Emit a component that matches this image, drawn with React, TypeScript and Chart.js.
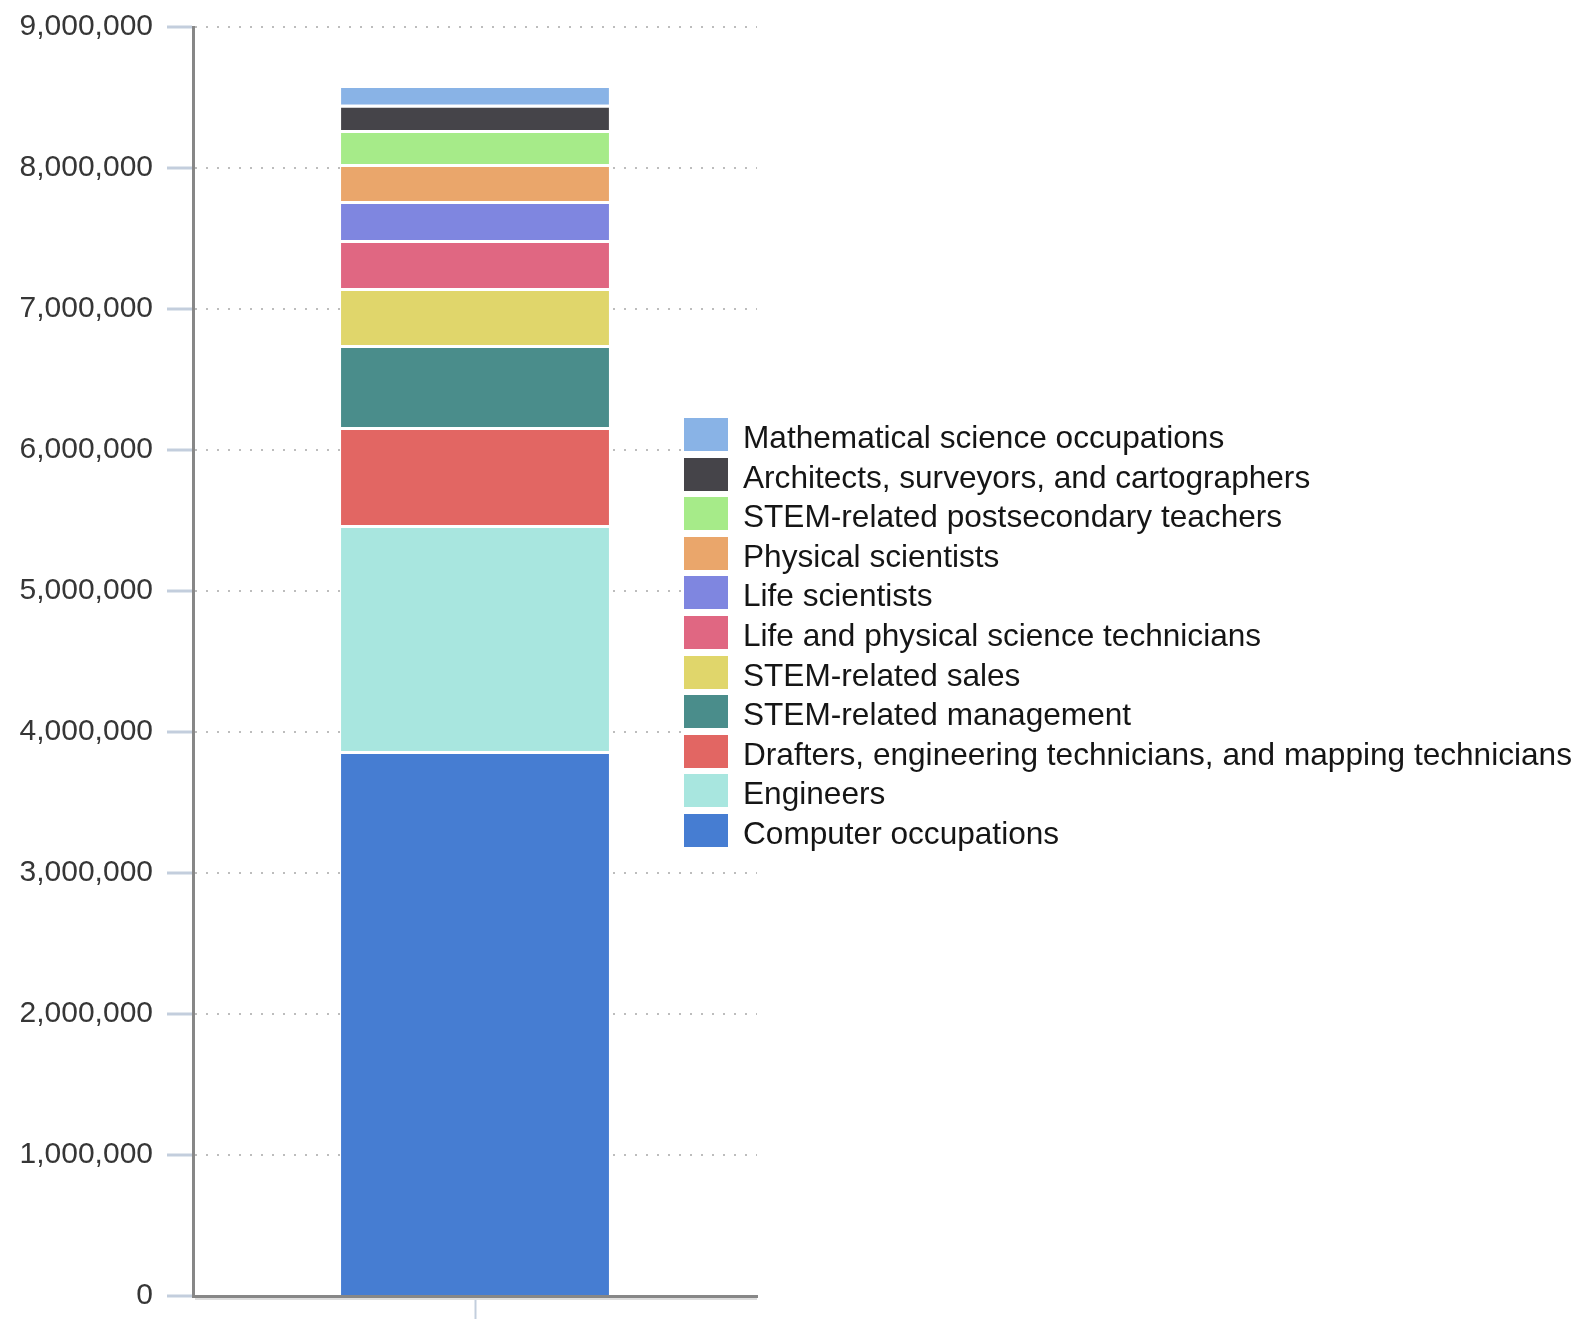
import React, { useEffect, useRef } from 'react';
import { Chart, registerables } from 'chart.js';

Chart.register(...registerables);

const categories = [''];
const seriesNames = [
  'Computer occupations',
  'Engineers',
  'Drafters, engineering technicians, and mapping technicians',
  'STEM-related management',
  'STEM-related sales',
  'Life and physical science technicians',
  'Life scientists',
  'Physical scientists',
  'STEM-related postsecondary teachers',
  'Architects, surveyors, and cartographers',
  'Mathematical science occupations',
];
const seriesValues = [3865000, 1603000, 695000, 582000, 404000, 340000, 277000, 262000, 242000, 179000, 140000];
const seriesColors = [
  '#467dd2', '#a8e6df', '#e26663', '#4a8d8b', '#e0d66b', '#e06782',
  '#7f86e0', '#eaa66b', '#a6eb89', '#454449', '#89b3e6',
];
const yMin = 0;
const yMax = 9000000;
const yStep = 1000000;

const sideLegend = {
  id: 'sideLegend',
  afterDraw(chart: any) {
    const ctx = chart.ctx;
    const ds = chart.data.datasets;
    const n = ds.length;
    ctx.save();
    ctx.fillStyle = '#ffffff';
    ctx.fillRect(681, 412, 898, 442);
    ctx.font = '31.6px "Liberation Sans"';
    ctx.textBaseline = 'middle';
    ctx.textAlign = 'left';
    for (let i = 0; i < n; i++) {
      const d = ds[n - 1 - i];
      const y = Math.round(418 + i * 39.6);
      ctx.fillStyle = d.backgroundColor;
      ctx.fillRect(684, y, 44, 33);
      ctx.fillStyle = '#151515';
      ctx.fillText(d.label, 743, y + 21);
    }
    ctx.restore();
  },
};

const underAxis = {
  id: 'underAxis',
  afterDraw(chart: any) {
    const ctx = chart.ctx;
    const a = chart.chartArea;
    ctx.save();
    ctx.strokeStyle = '#dedede';
    ctx.lineWidth = 2;
    ctx.beginPath();
    ctx.moveTo(a.left + 2, a.bottom + 3);
    ctx.lineTo(a.right, a.bottom + 3);
    ctx.stroke();
    ctx.restore();
  },
};

export default function App() {
  const ref = useRef<HTMLCanvasElement | null>(null);
  useEffect(() => {
    if (!ref.current) return;
    const chart = new Chart(ref.current, {
      type: 'bar',
      data: {
        labels: categories,
        datasets: seriesNames.map((name, i) => ({
          label: name,
          data: [seriesValues[i]],
          backgroundColor: seriesColors[i],
          borderColor: '#ffffff',
          borderWidth: { top: 3, right: 0, bottom: 0, left: 0 },
          borderSkipped: false,
          barPercentage: 0.475,
          categoryPercentage: 1,
        })),
      },
      options: {
        animation: false,
        responsive: true,
        maintainAspectRatio: false,
        layout: { padding: { left: 0, top: 27, right: 822, bottom: 0 } },
        plugins: {
          legend: { display: false },
          tooltip: { enabled: false },
        },
        scales: {
          x: {
            stacked: true,
            afterFit: (s: any) => { s.height = 23; s.paddingLeft = 0; s.paddingRight = 0; },
            grid: {
              drawOnChartArea: false,
              drawTicks: true,
              offset: false,
              tickLength: 23,
              tickColor: '#c3cedd',
              tickWidth: 2,
            },
            border: { display: true, color: '#878787', width: 3 },
            ticks: { display: false },
          },
          y: {
            stacked: true,
            min: yMin,
            max: yMax,
            afterFit: (s: any) => { s.width = 193; s.paddingTop = 0; s.paddingBottom = 0; },
            ticks: {
              stepSize: yStep,
              padding: 14,
              color: '#363636',
              font: { family: '"Liberation Sans"', size: 30 },
              callback: (v: any) => Number(v).toLocaleString('en-US'),
            },
            grid: {
              color: '#bdbdbd',
              lineWidth: 2,
              tickLength: 26,
              tickColor: '#c3cedd',
              tickWidth: 3,
              tickBorderDash: [],
            },
            border: { display: true, color: '#878787', width: 3, dash: [2, 9] },
          },
        },
      },
      plugins: [underAxis, sideLegend],
    });
    return () => chart.destroy();
  }, []);
  return (
    <div style={{ position: 'fixed', left: 0, top: 0, width: 1579, height: 1319, background: '#fff' }}>
      <canvas ref={ref} />
    </div>
  );
}
